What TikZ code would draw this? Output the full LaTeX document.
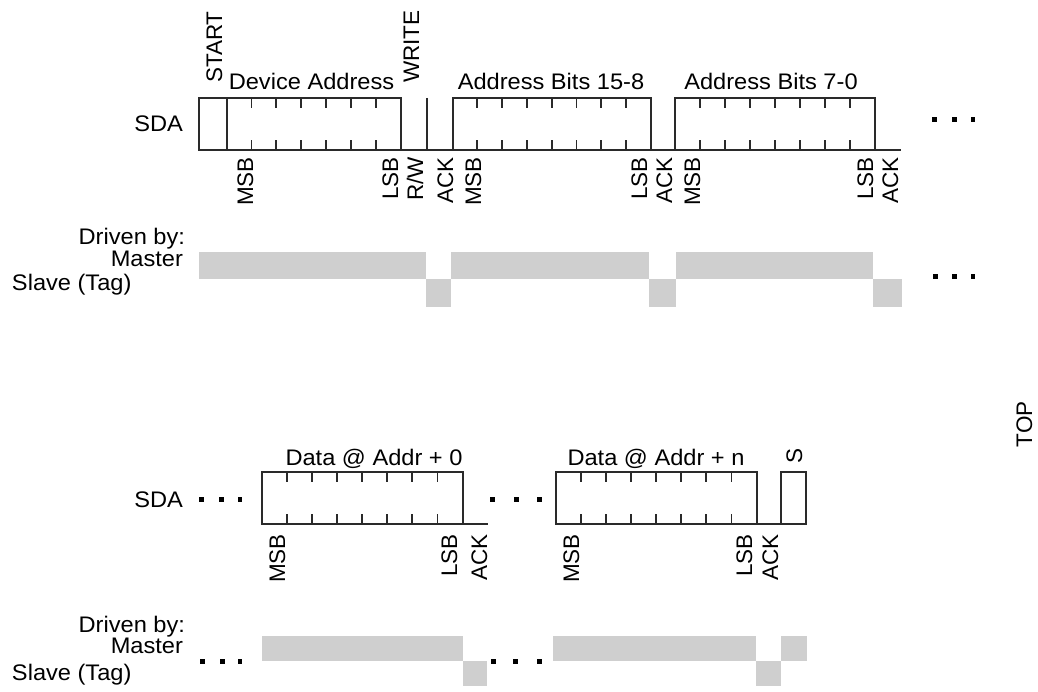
\documentclass[tikz,border=0pt]{standalone}
\usepackage{fontspec}
\setmainfont{Liberation Sans}
\definecolor{barGray}{HTML}{CFCFCF}
\definecolor{inkGray}{HTML}{2A2A2A}
\begin{document}
\begin{tikzpicture}[x=1pt,y=-1pt,
  wire/.style={line width=2pt, draw=inkGray, line join=miter},
  tck/.style={line width=1.8pt, draw=inkGray},
  bar/.style={fill=barGray, draw=none},
  txt/.style={font=\fontsize{22.5}{27}\selectfont, inner sep=0pt, outer sep=0pt, text=black},
  htxt/.style={txt, xscale=1.05},
  vlab/.style={txt, rotate=90, anchor=base east},
  vtop/.style={txt, rotate=90, anchor=base west},
  dotsq/.style={fill=black, draw=none, inner sep=0pt, minimum width=5pt, minimum height=5pt}
]
\useasboundingbox (0,0) rectangle (1038,692);

% ---------------- top row : SDA ----------------
\node[htxt, anchor=base east] (sdaA) at (183,132) {SDA};
\draw[wire] (199,98) rectangle (226.5,150);
\draw[wire] (226.5,98) rectangle (401,150);
\foreach \k in {1,...,6}{
  \draw[tck] ({226.5+24.93*\k},98) -- ++(0,10);
  \draw[tck] ({226.5+24.93*\k},150) -- ++(0,-10);}
\draw[wire] (401,150) -- (452.5,150);
\draw[wire] (426.5,98) -- (426.5,150);
\draw[wire] (452.5,98) rectangle (651,150);
\foreach \k in {1,...,7}{
  \draw[tck] ({452.5+24.81*\k},98) -- ++(0,10);
  \draw[tck] ({452.5+24.81*\k},150) -- ++(0,-10);}
\draw[wire] (651,150) -- (675,150);
\draw[wire] (675,98) rectangle (875,150);
\foreach \k in {1,...,7}{
  \draw[tck] ({675+25*\k},98) -- ++(0,10);
  \draw[tck] ({675+25*\k},150) -- ++(0,-10);}
\draw[wire] (875,150) -- (901,150);
\node[dotsq] (dA1) at (934,120) {};
\node[dotsq] (dA2) at (954,120) {};
\node[dotsq, minimum width=4pt] (dA3) at (973,120) {};

% labels above
\node[vtop] (start) at (222,83) {START};
\node[vtop] (write) at (419,83) {WRITE};
\node[htxt, anchor=base] (devaddr) at (311.5,90) {Device Address};
\node[htxt, anchor=base] (ab158) at (551,90) {Address Bits 15-8};
\node[htxt, anchor=base] (ab70) at (771,90) {Address Bits 7-0};

% labels below
\node[vlab] (msb1) at (253,157) {MSB};
\node[vlab] (lsb1) at (398,157) {LSB};
\node[vlab] (rw)   at (423,157) {R/W};
\node[vlab] (ack1) at (453,157) {ACK};
\node[vlab] (msb2) at (481,157) {MSB};
\node[vlab] (lsb2) at (647,157) {LSB};
\node[vlab] (ack2) at (672,157) {ACK};
\node[vlab] (msb3) at (700,157) {MSB};
\node[vlab] (lsb3) at (873,157) {LSB};
\node[vlab] (ack3) at (898,157) {ACK};

% ---------------- top row : driven by ----------------
\node[htxt, anchor=base east] (drvA) at (185,245) {Driven by:};
\node[htxt, anchor=base east] (mstA) at (183,267) {Master};
\node[htxt, anchor=base west] (slvA) at (12,291) {Slave (Tag)};
\fill[bar] (199,252) rectangle (425.7,279.3);
\fill[bar] (425.7,279.3) rectangle (451,307);
\fill[bar] (451,252) rectangle (649.3,279.3);
\fill[bar] (649.3,279.3) rectangle (676,307);
\fill[bar] (676,252) rectangle (873.3,279.3);
\fill[bar] (873.3,279.3) rectangle (901.7,307);
\node[dotsq] (dB1) at (935,277) {};
\node[dotsq] (dB2) at (954,277) {};
\node[dotsq, minimum width=4pt] (dB3) at (973,277) {};

% ---------------- TOP ----------------
\node[vtop] (toplbl) at (1032,447) {TOP};

% ---------------- bottom row : SDA ----------------
\node[htxt, anchor=base east] (sdaB) at (183,507) {SDA};
\node[dotsq] (dC1) at (201,499) {};
\node[dotsq] (dC2) at (221,499) {};
\node[dotsq, minimum width=4pt] (dC3) at (240,499) {};
\draw[wire] (262,472) rectangle (462.5,524);
\foreach \k in {1,...,7}{
  \draw[tck] ({262+25.06*\k},472) -- ++(0,10);
  \draw[tck] ({262+25.06*\k},524) -- ++(0,-10);}
\draw[wire] (462.5,524) -- (488,524);
\node[dotsq] (dD1) at (492,499) {};
\node[dotsq] (dD2) at (516,499) {};
\node[dotsq] (dD3) at (539,499) {};
\draw[wire] (556,472) rectangle (756.5,524);
\foreach \k in {1,...,7}{
  \draw[tck] ({556+25.06*\k},472) -- ++(0,10);
  \draw[tck] ({556+25.06*\k},524) -- ++(0,-10);}
\draw[wire] (756.5,524) -- (781,524);
\draw[wire] (781,472) rectangle (806,524);

\node[htxt, anchor=base] (data0) at (374,465) {Data @ Addr + 0};
\node[htxt, anchor=base] (datan) at (656,465) {Data @ Addr + n};
\node[vtop] (stop) at (802,463) {S};

\node[vlab] (msb4) at (285,534) {MSB};
\node[vlab] (lsb4) at (457,534) {LSB};
\node[vlab] (ack4) at (487,534) {ACK};
\node[vlab] (msb5) at (579,534) {MSB};
\node[vlab] (lsb5) at (752,534) {LSB};
\node[vlab] (ack5) at (778,534) {ACK};

% ---------------- bottom row : driven by ----------------
\node[htxt, anchor=base east] (drvB) at (185,632) {Driven by:};
\node[htxt, anchor=base east] (mstB) at (183,653) {Master};
\node[htxt, anchor=base west] (slvB) at (12,680) {Slave (Tag)};
\node[dotsq] (dE1) at (202,661) {};
\node[dotsq] (dE2) at (222,661) {};
\node[dotsq, minimum width=4pt] (dE3) at (240,661) {};
\fill[bar] (261.7,636) rectangle (462.7,661);
\fill[bar] (462.7,661) rectangle (486.7,686);
\node[dotsq] (dF1) at (493,661) {};
\node[dotsq] (dF2) at (515,661) {};
\node[dotsq] (dF3) at (539,661) {};
\fill[bar] (553.3,636) rectangle (755.7,661);
\fill[bar] (755.7,661) rectangle (781,686);
\fill[bar] (781,636) rectangle (807.3,661);
\end{tikzpicture}
\end{document}
